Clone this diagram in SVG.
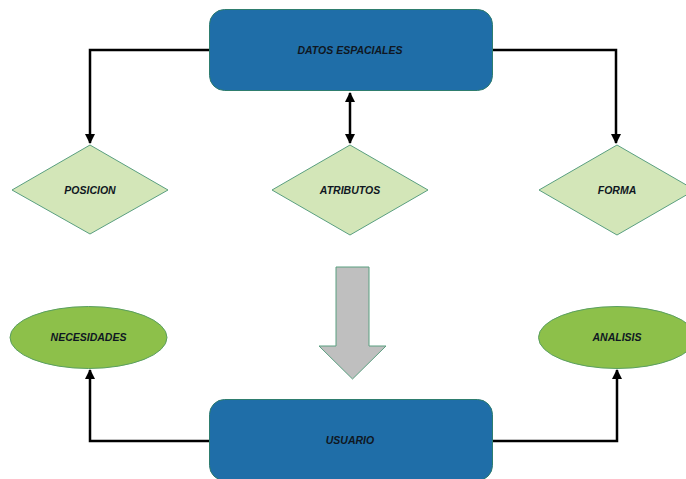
<svg xmlns="http://www.w3.org/2000/svg" width="686" height="479" viewBox="0 0 686 479">
<defs>
<marker id="ah" viewBox="0 0 10 10" refX="9" refY="5" markerWidth="4" markerHeight="4" orient="auto-start-reverse" markerUnits="strokeWidth">
<path d="M0,0 L10,5 L0,10 z" fill="#000"/>
</marker>
</defs>
<style>
.box{fill:#1f6ea8;stroke:#2e7d6e;stroke-width:1}
.dia{fill:#d3e6b8;stroke:#5a9f80;stroke-width:1}
.ell{fill:#8dc04a;stroke:#5a9f60;stroke-width:1}
.lbl{font-family:"Liberation Sans",Arial,sans-serif;font-weight:bold;font-style:italic;font-size:10.5px;fill:#0f1722;text-anchor:middle}
.con{fill:none;stroke:#000;stroke-width:2.5}
</style>
<g id="connectors">
<path class="con" d="M209,50 H90 V143" marker-end="url(#ah)"/>
<path class="con" d="M493,50 H616 V143" marker-end="url(#ah)"/>
<path class="con" d="M350,93 V143" marker-start="url(#ah)" marker-end="url(#ah)"/>
<path class="con" d="M209,441 H90 V370" marker-end="url(#ah)"/>
<path class="con" d="M493,441 H617 V370" marker-end="url(#ah)"/>
</g>
<g id="datos">
<rect class="box" x="209.5" y="9.5" width="283" height="81" rx="15"/>
<text class="lbl" x="350" y="53.5">DATOS ESPACIALES</text>
</g>
<g id="posicion">
<polygon class="dia" points="90,145 168,190 90,234 12,190"/>
<text class="lbl" x="90" y="193.5">POSICION</text>
</g>
<g id="atributos">
<polygon class="dia" points="350,145 428,190 350,235 272,190"/>
<text class="lbl" x="350" y="193.5">ATRIBUTOS</text>
</g>
<g id="forma">
<polygon class="dia" points="617,145 695,190 617,235 539,190"/>
<text class="lbl" x="617" y="193.5">FORMA</text>
</g>
<g id="flecha">
<polygon points="336,267 369,267 369,346 386,346 352.5,379 319,346 336,346" fill="#bfbfbf" stroke="#5a9f80" stroke-width="1"/>
</g>
<g id="necesidades">
<ellipse class="ell" cx="88.5" cy="337.5" rx="78.5" ry="31"/>
<text class="lbl" x="88.5" y="341">NECESIDADES</text>
</g>
<g id="analisis">
<ellipse class="ell" cx="617" cy="337.5" rx="78.5" ry="31"/>
<text class="lbl" x="617" y="341">ANALISIS</text>
</g>
<g id="usuario">
<rect class="box" x="209.5" y="399.5" width="283" height="81" rx="15"/>
<text class="lbl" x="350" y="443.5">USUARIO</text>
</g>
</svg>
